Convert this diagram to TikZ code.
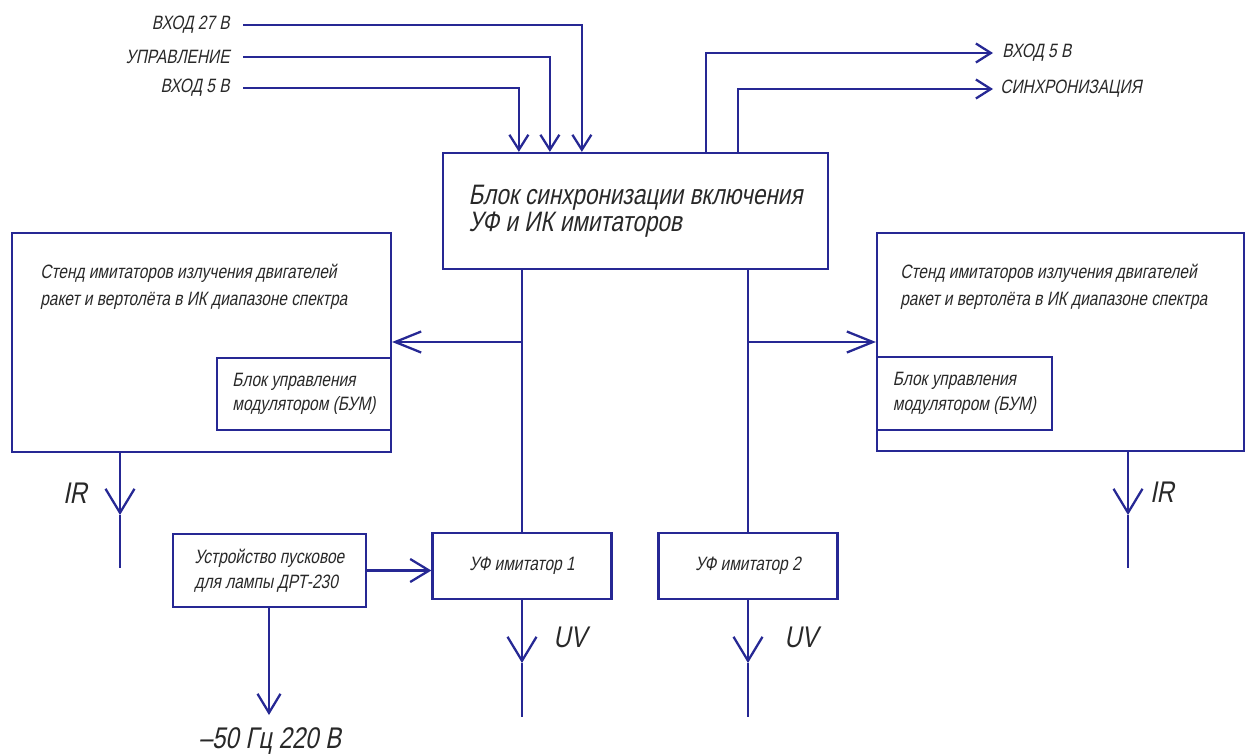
\documentclass[tikz,border=0pt]{standalone}
\usepackage{fontspec}
\newfontfamily\gost{Liberation Sans}[FakeStretch=0.8,FakeSlant=0.2]
\usetikzlibrary{arrows.meta, positioning, calc}
\definecolor{schemeblue}{RGB}{38, 40, 148}
\definecolor{schemetext}{RGB}{40, 40, 40}
\tikzstyle{block} = [draw=schemeblue, line width=1.3pt, inner sep=0pt, text=schemetext, align=left, font=\gost\fontsize{11}{14}\selectfont]
\tikzstyle{lbl} = [inner sep=0pt, text=schemetext, align=left, font=\gost\fontsize{11}{15}\selectfont]
\tikzstyle{biglbl} = [inner sep=0pt, text=schemetext, font=\gost\fontsize{17}{17}\selectfont]
\tikzstyle{wire} = [schemeblue, line width=1.3pt]
\tikzstyle{arrowsmall} = [wire, -{Straight Barb[length=3mm, width=3.8mm]}]
\tikzstyle{arrowside} = [wire, -{Straight Barb[length=5.2mm, width=4.2mm]}]
\tikzstyle{arrowmid} = [wire, -{Straight Barb[length=3.8mm, width=4.6mm]}]
\tikzstyle{arrowbig} = [wire, -{Straight Barb[length=4.8mm, width=5.8mm]}]

\begin{document}
\begin{tikzpicture}[x=0.02cm, y=-0.02cm]
\useasboundingbox (0,0) rectangle (1247,754);
% Blocks
\node[block, minimum width=7.7cm, minimum height=2.32cm, font=\gost\fontsize{16}{15.5}\selectfont] (sync) at (635.5,211) {Блок синхронизации включения\\УФ и ИК имитаторов};
\node[block, minimum width=7.58cm, minimum height=4.38cm] (standL) at (201.5,342.5) {};
\node[block, minimum width=7.34cm, minimum height=4.36cm] (standR) at (1060.5,342) {};
\node[block, minimum width=3.48cm, minimum height=1.44cm] (bumL) at (304,394) {Блок управления\\модулятором (БУМ)};
\node[block, minimum width=3.5cm, minimum height=1.46cm] (bumR) at (964.5,393.5) {Блок управления\\модулятором (БУМ)};
\node[block, minimum width=3.86cm, minimum height=1.46cm] (pusk) at (269.5,570.5) {Устройство пусковое\\для лампы ДРТ-230};
\node[block, minimum width=3.58cm, minimum height=1.32cm] (uv1) at (522,566) {УФ имитатор 1};
\node[block, minimum width=3.58cm, minimum height=1.32cm] (uv2) at (748,566) {УФ имитатор 2};
\node[lbl, anchor=west] (standLtext) at (40,287) {Стенд имитаторов излучения двигателей\\ракет и вертолёта в ИК диапазоне спектра};
\node[lbl, anchor=west] (standRtext) at (900,287) {Стенд имитаторов излучения двигателей\\ракет и вертолёта в ИК диапазоне спектра};

% Inputs and outputs of the sync block
\node[lbl, anchor=east] (l27) at (230,25) {ВХОД 27 В};
\node[lbl, anchor=east] (lctl) at (230,57) {УПРАВЛЕНИЕ};
\node[lbl, anchor=east] (l5) at (230,88) {ВХОД 5 В};
\node[lbl, anchor=west] (lout5) at (1002,53) {ВХОД 5 В};
\node[lbl, anchor=west] (loutsync) at (1000,89) {СИНХРОНИЗАЦИЯ};
\coordinate (in27) at (243,25);
\coordinate (inctl) at (243,57);
\coordinate (in5) at (243,88);
\coordinate (out5) at (993,53);
\coordinate (outsync) at (993,89);
\draw[arrowsmall] (in27) -| ([xshift=2.8cm]sync.north west);
\draw[arrowsmall] (inctl) -| ([xshift=2.16cm]sync.north west);
\draw[arrowsmall] (in5) -| ([xshift=1.54cm]sync.north west);
\draw[arrowsmall] ([xshift=5.28cm]sync.north west) |- (out5);
\draw[arrowsmall] ([xshift=5.92cm]sync.north west) |- (outsync);

% Sync block to stands and UV imitators
\coordinate (jl) at (522,342);
\coordinate (jr) at (748,342);
\draw[wire] (sync.south -| uv1.north) -- (uv1.north);
\draw[wire] (sync.south -| uv2.north) -- (uv2.north);
\draw[arrowside] (jl) -- (jl -| standL.east);
\draw[arrowside] (jr) -- (jr -| standR.west);
\draw[arrowmid] (pusk.east) -- (pusk.east -| uv1.west);

% Radiation outputs
\coordinate (irLtip) at (120,515);
\coordinate (irLend) at (120,568);
\coordinate (irRtip) at (1128,515);
\coordinate (irRend) at (1128,568);
\coordinate (uv1tip) at (522,663);
\coordinate (uv1end) at (522,717);
\coordinate (uv2tip) at (748,663);
\coordinate (uv2end) at (748,717);
\coordinate (nettip) at (269,715);
\draw[arrowbig] (standL.south -| irLtip) -- (irLtip);
\draw[wire] (irLtip) -- (irLend);
\draw[arrowbig] (standR.south -| irRtip) -- (irRtip);
\draw[wire] (irRtip) -- (irRend);
\draw[arrowbig] (uv1.south) -- (uv1tip);
\draw[wire] (uv1tip) -- (uv1end);
\draw[arrowbig] (uv2.south) -- (uv2tip);
\draw[wire] (uv2tip) -- (uv2end);
\draw[arrowmid] (pusk.south -| nettip) -- (nettip);
\node[biglbl] (irL) at (75,493) {IR};
\node[biglbl] (irR) at (1162,492) {IR};
\node[biglbl] (uvL) at (570,637) {UV};
\node[biglbl] (uvR) at (801,637) {UV};
\node[biglbl] (net) at (270,741) {–50 Гц 220 В};
\end{tikzpicture}
\end{document}
